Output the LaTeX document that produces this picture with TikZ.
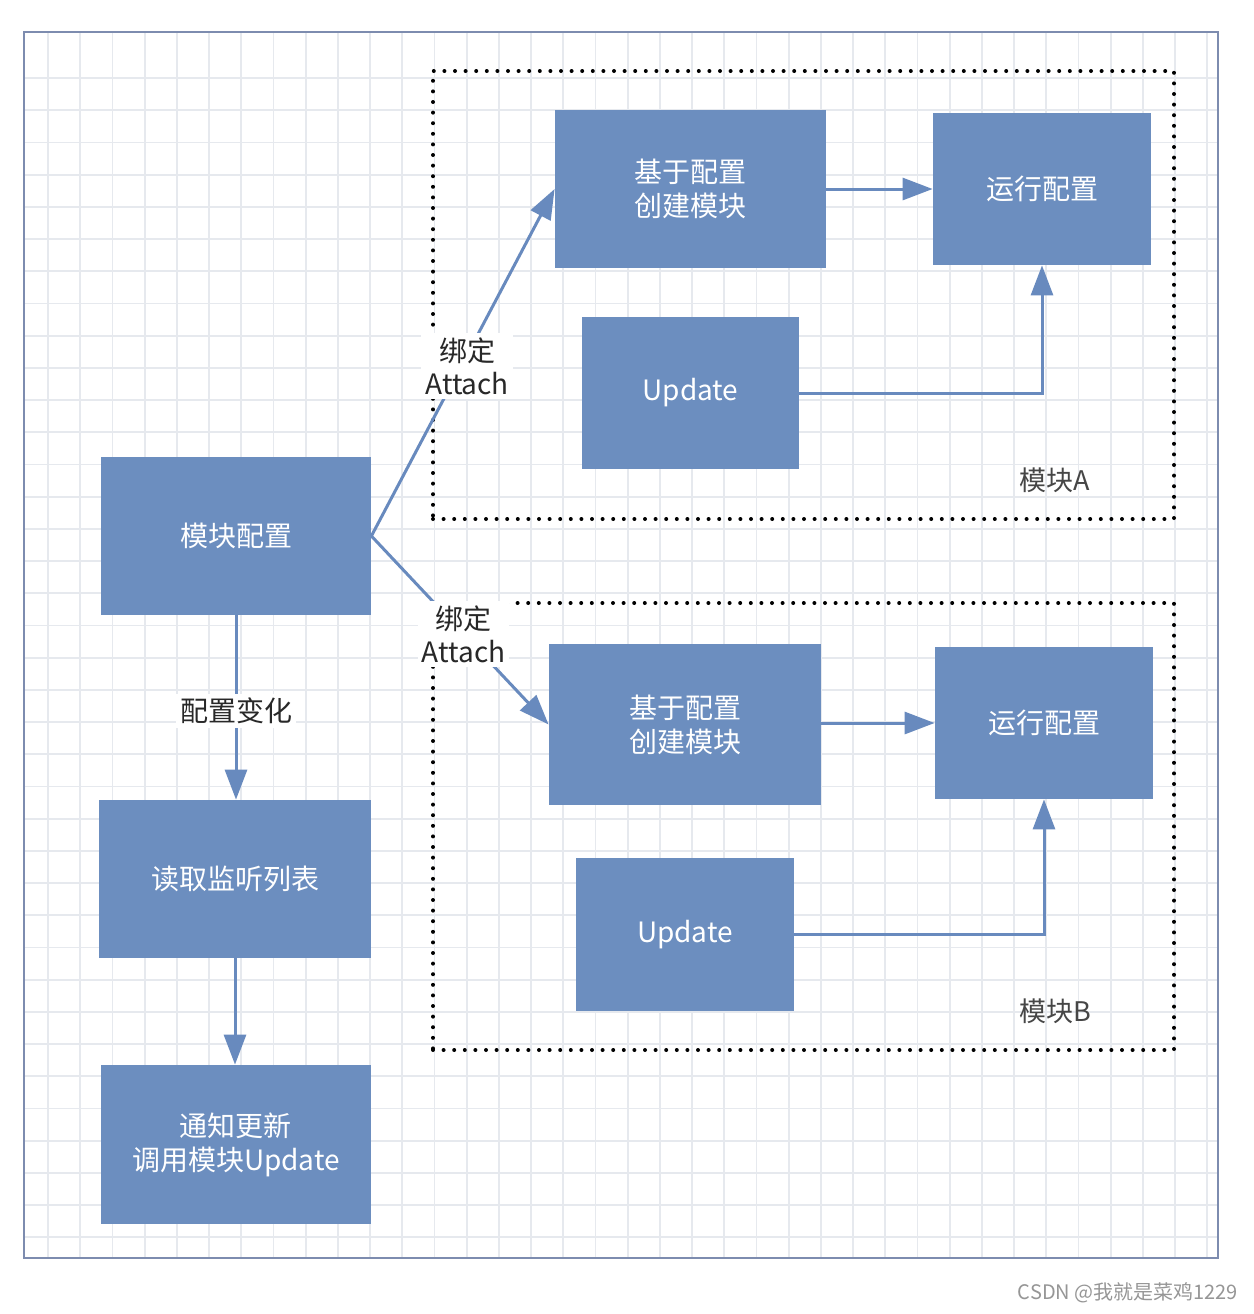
\documentclass[tikz,border=0pt]{standalone}
\usepackage{fontspec}
\setmainfont{Noto Sans CJK SC}
\usetikzlibrary{arrows.meta}
\definecolor{boxblue}{RGB}{108,142,191}
\definecolor{lineblue}{RGB}{104,138,190}
\definecolor{gridc}{RGB}{230,233,238}
\definecolor{framec}{RGB}{125,140,175}
\definecolor{wmgray}{RGB}{150,150,150}
\definecolor{labc}{RGB}{40,40,40}
\definecolor{grpc}{RGB}{70,70,70}
\begin{document}
\begin{tikzpicture}[x=0.5pt,y=-0.5pt,
  box/.style={fill=boxblue, text=white, font=\fontsize{14pt}{17pt}\selectfont, align=center, inner sep=0pt},
  group/.style={draw=black, line width=2pt, dash pattern=on 0pt off 5.3pt, line cap=round, inner sep=0pt},
  conn/.style={draw=lineblue, line width=1.5pt, -{Triangle[length=15pt,width=11pt]}},
  lbl/.style={fill=white, text=labc, font=\fontsize{14pt}{16.5pt}\selectfont, align=center, inner sep=2pt},
  grptext/.style={text=grpc, font=\fontsize{13.5pt}{16pt}\selectfont, inner sep=0pt},
  gridline/.style={draw=gridc, line width=0.9pt},
]
\useasboundingbox (0,0) rectangle (1254,1314);
\fill[white] (0,0) rectangle (1254,1314);
% grid
\foreach \i in {0,...,36} {
  \draw[gridline] ({48+32.2*\i},33) -- ({48+32.2*\i},1257);
  \draw[gridline] (25,{78+32.2*\i}) -- (1217,{78+32.2*\i});
}
\draw[framec, line width=1.2pt] (24,32) rectangle (1218,1258);

% groups
\node[group, minimum width=370.5pt, minimum height=224pt] (modA) at (803.5,295) {};
\node[group, minimum width=370.5pt, minimum height=223.5pt] (modB) at (803.5,826.5) {};
\node[grptext] (labA) at (1055,480) {模块A};
\node[grptext] (labB) at (1055,1011) {模块B};

% left column
\node[box, minimum width=135pt, minimum height=79pt] (cfg) at (236,536) {模块配置};
\node[box, minimum width=136pt, minimum height=79pt] (read) at (235,879) {读取监听列表};
\node[box, minimum width=135pt, minimum height=79.5pt] (notify) at (236,1144.5) {通知更新\\调用模块Update};

% module A
\node[box, minimum width=135.5pt, minimum height=79pt] (createA) at (690.5,189) {基于配置\\创建模块};
\node[box, minimum width=109pt, minimum height=76pt] (runA) at (1042,189) {运行配置};
\node[box, minimum width=108.5pt, minimum height=76pt] (updA) at (690.5,393) {Update};

% module B
\node[box, minimum width=136pt, minimum height=80.5pt] (createB) at (685,724.5) {基于配置\\创建模块};
\node[box, minimum width=109pt, minimum height=76pt] (runB) at (1044,723) {运行配置};
\node[box, minimum width=109pt, minimum height=76.5pt] (updB) at (685,934.5) {Update};

% connectors
\draw[conn] (cfg.south) -- node[lbl, pos=0.52] {配置变化} (cfg.south |- read.north);
\draw[conn] (read.south) -- (read.south |- notify.north);
\draw[conn] (cfg.east) -- node[lbl, pos=0.49, xshift=3pt] {绑定\\Attach} (createA.west);
\draw[conn] (cfg.east) -- node[lbl, pos=0.52] {绑定\\Attach} (createB.west);
\draw[conn] (createA.east) -- (runA.west);
\draw[conn] (updA.east) -| (runA.south);
\draw[conn] (createB.east |- runB.west) -- (runB.west);
\draw[conn] (updB.east) -| (runB.south);

% watermark
\node[text=wmgray, font=\fontsize{10pt}{12pt}\selectfont, inner sep=0pt] (wm) at (1128,1293) {CSDN @我就是菜鸡1229};
\end{tikzpicture}
\end{document}
